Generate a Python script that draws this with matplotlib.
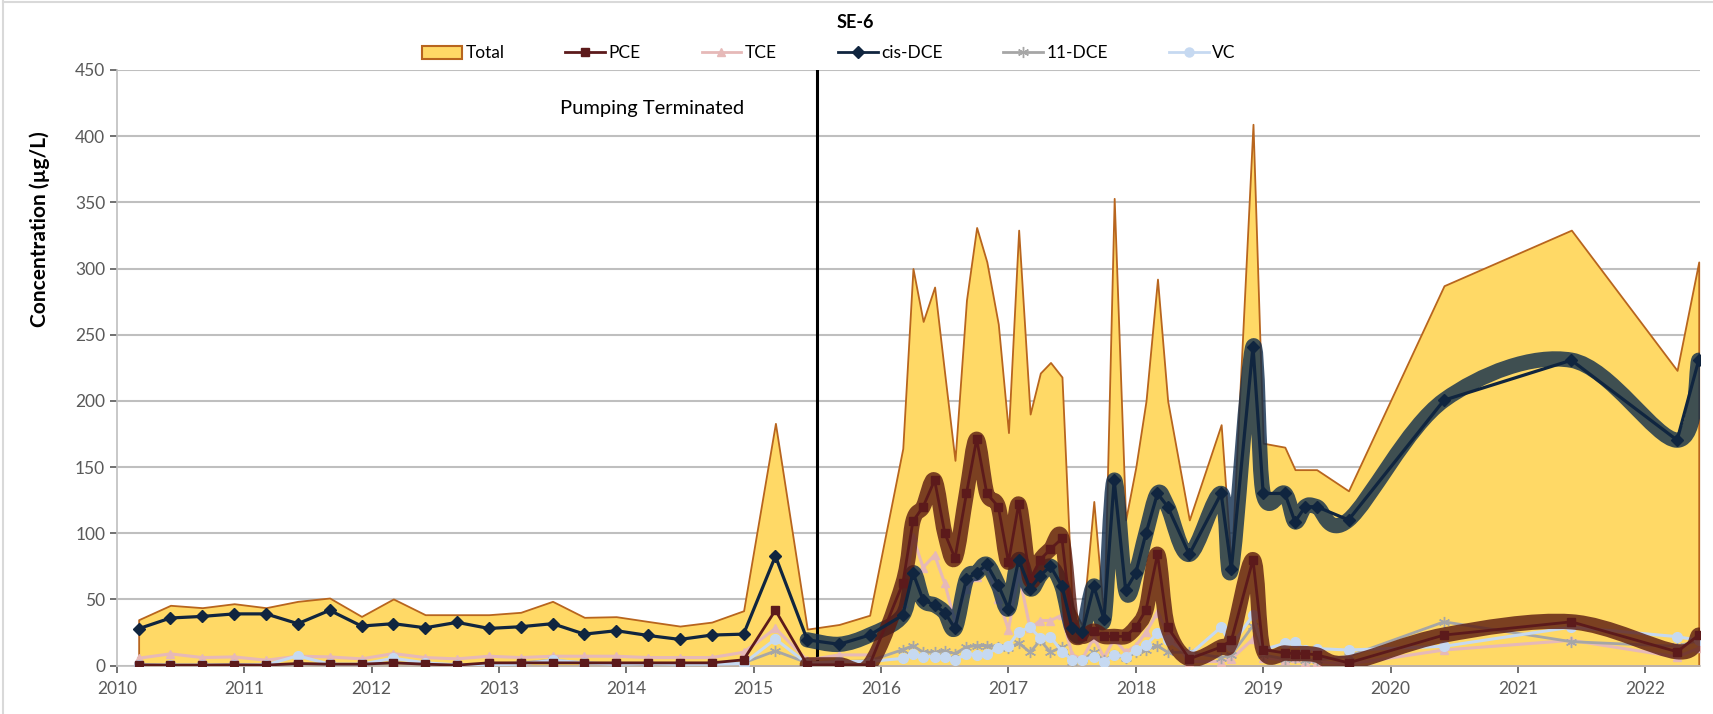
import numpy as np
import matplotlib
matplotlib.use("Agg")
import matplotlib.pyplot as plt
from matplotlib.path import Path
from matplotlib.patches import PathPatch, Patch
from matplotlib.lines import Line2D

plt.rcParams['font.family'] = ['Lato', 'DejaVu Sans']

# sample dates as decimal years
dates = [2010.17, 2010.42, 2010.67, 2010.92, 2011.17, 2011.42, 2011.67, 2011.92,
         2012.17, 2012.42, 2012.67, 2012.92, 2013.17, 2013.42, 2013.67, 2013.92,
         2014.17, 2014.42, 2014.67, 2014.92, 2015.17, 2015.42, 2015.67, 2015.91,
         2016.17, 2016.25, 2016.33, 2016.42, 2016.50, 2016.58, 2016.67, 2016.75,
         2016.83, 2016.92, 2017.00, 2017.08, 2017.17, 2017.25, 2017.33, 2017.42,
         2017.50, 2017.58, 2017.67, 2017.75, 2017.83, 2017.92, 2018.00, 2018.08,
         2018.17, 2018.25, 2018.42, 2018.67, 2018.75, 2018.92, 2019.00, 2019.17,
         2019.25, 2019.33, 2019.42, 2019.67, 2020.42, 2021.42, 2022.25, 2022.42]

total = [34.6, 45.5, 43.7, 46.7, 43.7, 48.5, 51.0, 37.1,
         50.3, 38.4, 38.4, 38.4, 40.2, 48.5, 36.4, 36.9,
         33.3, 29.8, 32.8, 41.4, 183, 27.5, 31, 38,
         164, 300, 260, 286, 220, 155, 276, 331,
         305, 258, 176, 329, 190, 221, 229, 218,
         45, 30, 124, 35, 353, 110, 150, 200,
         292, 200, 110, 182, 75, 409, 168, 165,
         148, 148, 148, 132, 287, 329, 223, 305]

pce = [0.5, 0.3, 0.3, 0.5, 0.3, 1.5, 1.0, 1.0,
       2.0, 1.0, 0.3, 2.0, 2.0, 2.0, 2.0, 2.0,
       2.0, 2.0, 2.0, 4.3, 41.7, 0.5, 0.5, 0.5,
       62, 109, 120, 140, 100, 81, 130, 171,
       130, 120, 78, 122, 65, 80, 88, 96,
       29, 22, 26, 22, 22, 22, 29, 42,
       84, 29, 5, 14, 19, 80, 12, 9.5,
       9, 9, 8, 2, 23, 33, 10.4, 23]

tce = [5.5, 8.8, 6.0, 6.5, 4.0, 7.0, 6.5, 5.0,
       9.0, 6.0, 5.0, 7.0, 6.0, 7.0, 7.0, 7.0,
       6.0, 6.0, 6.0, 10.0, 28, 4.0, 8, 8,
       47, 97, 74, 83.5, 62, 33, 58, 67,
       75, 50, 27, 70, 28, 34, 34, 38,
       8, 5, 21, 6, 20, 10, 15, 25,
       40, 25, 3, 3, 5, 20, 6, 4,
       6, 3, 3, 1, 11.7, 19, 6.5, 13]

cis_dce = [27.8, 35.9, 37.1, 39.0, 39.0, 31.6, 41.7, 29.8,
           31.6, 28.5, 32.6, 28.0, 29.3, 31.6, 23.7, 26.3,
           22.7, 19.7, 23.0, 23.7, 82.6, 19.4, 16, 23,
           38, 70, 49.5, 45.7, 40, 28, 65.3, 70,
           76.4, 60.8, 43, 80, 58, 68, 75, 60,
           28, 25, 60, 35, 140, 57, 70, 100,
           130, 120, 84, 130, 73, 241, 130, 130,
           108.6, 120, 120, 110, 200.5, 230.7, 170.3, 230.7]

dce_11 = [0.5, 0.3, 0.3, 0.5, 0.3, 1.0, 1.0, 0.5,
          2.0, 1.0, 0.5, 1.0, 2.0, 4.0, 2.0, 1.0,
          1.0, 1.0, 1.0, 2.0, 11, 2.0, 3, 3.5,
          12, 15, 10, 10, 11, 9, 14, 15,
          15, 14, 13, 17, 10, 19, 10, 14,
          3, 4, 10, 4, 8, 6, 10, 12,
          15, 10, 10, 6, 8, 30, 8, 5,
          6, 4, 4, 7, 33, 18, 14.5, 19]

vc = [0.5, 0.3, 0.3, 0.5, 0.5, 7.3, 1.0, 1.0,
      5.5, 2.0, 0.5, 0.5, 1.0, 4.0, 2.0, 1.0,
      1.5, 1.0, 1.0, 1.5, 20, 1.5, 3, 3,
      5.4, 9, 6.7, 6.7, 6.7, 4, 9, 8,
      9, 13, 15, 25.5, 29, 20.5, 21.7, 10.5,
      4.3, 4.3, 6.7, 2.9, 8, 6.7, 11.7, 15.5,
      24.3, 19.3, 8, 29, 15, 38, 12, 16.7,
      18, 12, 12.8, 11.7, 14.5, 29, 21.8, 19]

year_ticks = list(range(2010, 2023))
pump_stop = 2015.5

x = np.array(dates)
post = x >= 2015.4


def smooth_path(xs, ys):
    # bezier through the points, same idea as a smoothed line in a spreadsheet
    pts = np.column_stack([xs, ys])
    n = len(pts)
    verts = [pts[0]]
    codes = [Path.MOVETO]
    for i in range(n - 1):
        p0 = pts[i - 1] if i > 0 else pts[i]
        p1 = pts[i]
        p2 = pts[i + 1]
        p3 = pts[i + 2] if i + 2 < n else pts[i + 1]
        verts += [p1 + (p2 - p0) / 6, p2 - (p3 - p1) / 6, p2]
        codes += [Path.CURVE4] * 3
    return Path(verts, codes)


fig = plt.figure(figsize=(17.13, 7.14), dpi=100)
ax = fig.add_axes([117 / 1713, 48.5 / 714, (1700 - 117) / 1713, 595.5 / 714])

ax.fill_between(x, 0, total, facecolor='#FFD966', edgecolor='#B8651E',
                linewidth=1.3, zorder=1)
ax.plot([pump_stop, pump_stop], [0, 450], color='black', lw=2.2, zorder=2)

ax.plot(x, tce, color='#E6B9B8', lw=2.2, marker='^', ms=6, zorder=3)
ax.plot(x, dce_11, color='#A6A6A6', lw=2, marker=(6, 2, 0), ms=8, zorder=3)
ax.plot(x, vc, color='#C6D9F1', lw=2.2, marker='o', ms=7, zorder=3)

# heavy smoothed traces after pumping stopped
ax.add_patch(PathPatch(smooth_path(x[post], np.array(cis_dce)[post]), fill=False,
                       edgecolor='#0F2C4C', alpha=0.8, lw=11,
                       capstyle='round', joinstyle='round', zorder=4))
ax.add_patch(PathPatch(smooth_path(x[post], np.array(pce)[post]), fill=False,
                       edgecolor='#5A1A10', alpha=0.8, lw=11,
                       capstyle='round', joinstyle='round', zorder=5))

ax.plot(x, pce, color='#5C1A1B', lw=2, marker='s', ms=6, zorder=6)
ax.plot(x, cis_dce, color='#10253F', lw=2.3, marker='D', ms=6, zorder=7)

ax.text(2014.2, 421, 'Pumping Terminated', ha='center', va='center',
        fontsize=14.5, color='black')

ax.set_xlim(2010, 2022.43)
ax.set_ylim(0, 450)
ax.set_xticks(year_ticks)
ax.set_xticklabels([str(y) for y in year_ticks])
ax.set_yticks(np.arange(0, 451, 50))
ax.tick_params(axis='both', labelsize=12.5, colors='#595959', length=5,
               width=1.2, direction='out')
ax.tick_params(axis='x', pad=6)
ax.grid(axis='y', color='#BFBFBF', lw=1.5)
ax.set_axisbelow(True)
for side in ['top', 'right']:
    ax.spines[side].set_visible(False)
for side in ['left', 'bottom']:
    ax.spines[side].set_color('#BFBFBF')
    ax.spines[side].set_linewidth(1.2)

fig.text(855 / 1713, 1 - 23 / 714, 'SE-6', ha='center', va='center',
         fontsize=13, fontweight='bold')
fig.text(40 / 1713, 1 - 229 / 714, 'Concentration (µg/L)', rotation=90,
         ha='center', va='center', fontsize=15, fontweight='bold')

handles = [
    Patch(facecolor='#FFD966', edgecolor='#B8651E', linewidth=1.5),
    Line2D([], [], color='#5C1A1B', lw=2, marker='s', ms=6),
    Line2D([], [], color='#E6B9B8', lw=2, marker='^', ms=6),
    Line2D([], [], color='#10253F', lw=2, marker='D', ms=6),
    Line2D([], [], color='#A6A6A6', lw=2, marker=(6, 2, 0), ms=8),
    Line2D([], [], color='#C6D9F1', lw=2, marker='o', ms=6.5),
]
labels = ['Total', 'PCE', 'TCE', 'cis-DCE', '11-DCE', 'VC']
fig.legend(handles, labels, loc='center', bbox_to_anchor=(829 / 1713, 1 - 53.5 / 714),
           ncol=6, frameon=False, fontsize=12.5, handlelength=2.3,
           handletextpad=0.2, columnspacing=3.5)

# chart area border
fig.add_artist(Line2D([3 / 1713, 3 / 1713], [0, 1], color='#D9D9D9', lw=1.5))
fig.add_artist(Line2D([3 / 1713, 1], [1 - 1.5 / 714, 1 - 1.5 / 714], color='#D9D9D9', lw=1.5))

fig.savefig('out.png', dpi=100)
